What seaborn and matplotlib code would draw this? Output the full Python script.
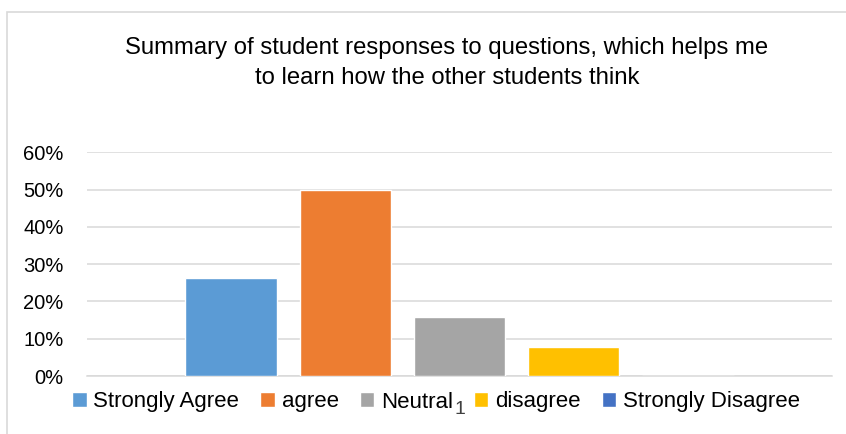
import matplotlib
matplotlib.use("Agg")
import matplotlib.pyplot as plt
import seaborn as sns
import pandas as pd
from matplotlib.patches import Rectangle
from matplotlib.ticker import PercentFormatter

# ---- data ----
categories = ["Strongly Agree", "agree", "Neutral", "disagree", "Strongly Disagree"]
values = [0.263, 0.50, 0.158, 0.079, 0.0]
group_label = ["1", "1", "1", "1", "1"]
colors = ["#5B9BD5", "#ED7D31", "#A5A5A5", "#FFC000", "#4472C4"]
yticks = [0, 0.1, 0.2, 0.3, 0.4, 0.5, 0.6]
title = "Summary of student responses to questions, which helps me\nto learn how the other students think"

df = pd.DataFrame({"group": group_label, "response": categories, "value": values})

sns.set_theme(style="white")
plt.rcParams["font.family"] = ["Liberation Sans", "DejaVu Sans"]

W, H = 846, 434
fig = plt.figure(figsize=(W / 100, H / 100), dpi=100)
ax = fig.add_axes([87 / W, (H - 376) / H, (832 - 87) / W, (376 - 152.3) / H])

sns.barplot(data=df, x="group", y="value", hue="response", hue_order=categories,
            palette=colors, width=0.767, gap=0.2, saturation=1, ax=ax,
            legend=True, zorder=3)

ax.set_ylim(0, 0.6)
ax.set_xlim(-0.5, 0.5)
ax.set_yticks(yticks)
ax.yaxis.set_major_formatter(PercentFormatter(1.0, decimals=0))
ax.grid(axis="y", color="#D9D9D9", linewidth=1.1, zorder=0)
ax.set_axisbelow(True)
for s in ["top", "right", "left"]:
    ax.spines[s].set_visible(False)
ax.spines["bottom"].set_color("#D9D9D9")
ax.spines["bottom"].set_linewidth(1.1)
ax.set_xlabel("")
ax.set_ylabel("")
ax.tick_params(axis="y", length=0, pad=17, labelsize=14.5, labelcolor="black")
ax.tick_params(axis="x", length=0, pad=18, labelsize=14, labelcolor="#404040")

leg = ax.legend(loc="center", bbox_to_anchor=(436 / W, 1 - 402 / H), bbox_transform=fig.transFigure,
                ncol=5, frameon=False, fontsize=16, handlelength=0.65, handleheight=0.65,
                handletextpad=0.3, columnspacing=0.95, borderaxespad=0)
for t in leg.get_texts():
    t.set_color("black")

fig.text(447 / W, 1 - 63 / H, title, ha="center", va="center", fontsize=17.2,
         color="black", linespacing=1.45)

fig.patches.append(Rectangle((6.5 / W, -0.1), 1.2, (H - 12) / H + 0.1, transform=fig.transFigure,
                             fill=False, edgecolor="#D9D9D9", linewidth=1.2))

fig.savefig("out.png", dpi=100)
